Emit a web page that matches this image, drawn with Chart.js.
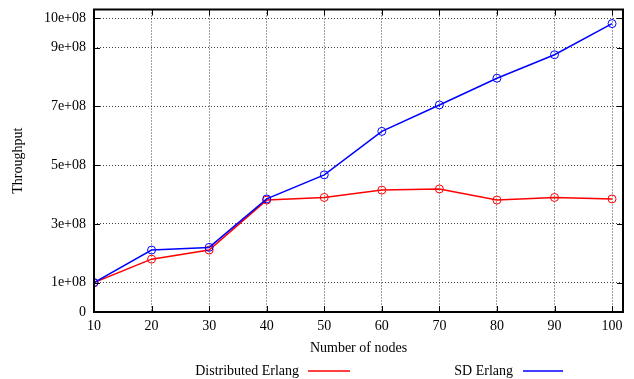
<!DOCTYPE html>
<html>
<head>
<meta charset="utf-8">
<script src="https://cdn.jsdelivr.net/npm/chart.js@4"></script>
<style>
  html, body { margin: 0; padding: 0; background: #fff; }
  #wrap { width: 634px; height: 379px; }
</style>
</head>
<body>
<div id="wrap"><canvas id="chart" width="634" height="379"></canvas></div>
<script>
  // valores
  const nodes = [10, 20, 30, 40, 50, 60, 70, 80, 90, 100];
  const distErlang = [1.0e8, 1.80e8, 2.11e8, 3.81e8, 3.90e8, 4.15e8, 4.19e8, 3.81e8, 3.90e8, 3.85e8];
  const sdErlang = [1.0e8, 2.11e8, 2.20e8, 3.85e8, 4.67e8, 6.15e8, 7.05e8, 7.96e8, 8.76e8, 9.82e8];
  const yTicks = [0, 1e8, 3e8, 5e8, 7e8, 9e8, 10e8];
  const xTicks = [10, 20, 30, 40, 50, 60, 70, 80, 90, 100];
  const seriesNames = ['Distributed Erlang', 'SD Erlang'];

  const serif = '"Liberation Serif", "DejaVu Serif", serif';
  const red = 'rgb(255,0,0)';
  const blue = 'rgb(0,0,255)';

  // moldura, marcas internas e legenda no estilo gnuplot
  const gnuplotFrame = {
    id: 'gnuplotFrame',
    afterDatasetsDraw(chart) {
      const {ctx, chartArea: a, scales} = chart;
      ctx.save();
      ctx.strokeStyle = '#000';
      ctx.lineWidth = 1;
      ctx.beginPath();
      xTicks.forEach(v => {
        const px = Math.round(scales.x.getPixelForValue(v)) + 0.5;
        ctx.moveTo(px, a.bottom); ctx.lineTo(px, a.bottom - 6);
        ctx.moveTo(px, a.top); ctx.lineTo(px, a.top + 6);
      });
      yTicks.forEach(v => {
        const py = Math.round(scales.y.getPixelForValue(v)) + 0.5;
        ctx.moveTo(a.left, py); ctx.lineTo(a.left + 6, py);
        ctx.moveTo(a.right, py); ctx.lineTo(a.right - 6, py);
      });
      ctx.stroke();
      ctx.lineWidth = 2;
      ctx.strokeRect(a.left, a.top, a.right - a.left, a.bottom - a.top);
      ctx.restore();
    },
    afterDraw(chart) {
      const {ctx} = chart;
      const y = 371;
      const entries = [
        {label: seriesNames[0], color: red, textEnd: 299, x0: 308, x1: 350},
        {label: seriesNames[1], color: blue, textEnd: 513, x0: 523, x1: 563}
      ];
      ctx.save();
      ctx.font = '14px ' + serif;
      ctx.textAlign = 'right';
      ctx.textBaseline = 'middle';
      entries.forEach(e => {
        ctx.fillStyle = '#000';
        ctx.fillText(e.label, e.textEnd, y);
        ctx.strokeStyle = e.color;
        ctx.lineWidth = 1.5;
        ctx.beginPath();
        ctx.moveTo(e.x0, y); ctx.lineTo(e.x1, y);
        ctx.stroke();
      });
      ctx.restore();
    }
  };

  const ctx = document.getElementById('chart').getContext('2d');
  new Chart(ctx, {
    type: 'line',
    data: {
      labels: nodes,
      datasets: [
        {
          label: seriesNames[0],
          data: nodes.map((n, i) => ({x: n, y: distErlang[i]})),
          borderColor: red,
          backgroundColor: 'rgba(0,0,0,0)',
          pointBorderColor: red,
          borderWidth: 1.5,
          pointRadius: 4,
          pointBorderWidth: 1,
          tension: 0,
          order: 1
        },
        {
          label: seriesNames[1],
          data: nodes.map((n, i) => ({x: n, y: sdErlang[i]})),
          borderColor: blue,
          backgroundColor: 'rgba(0,0,0,0)',
          pointBorderColor: blue,
          borderWidth: 1.5,
          pointRadius: 4,
          pointBorderWidth: 1,
          tension: 0,
          order: 0
        }
      ]
    },
    options: {
      responsive: false,
      animation: false,
      devicePixelRatio: 1,
      layout: { padding: { left: 0, right: 11, top: 9.5, bottom: 22 } },
      plugins: {
        legend: { display: false },
        tooltip: { enabled: false }
      },
      scales: {
        x: {
          type: 'linear',
          min: 10,
          max: 101.9,
          afterBuildTicks: s => { s.ticks = xTicks.map(v => ({value: v})); },
          afterFit: s => { s.height = 45; s.paddingLeft = 0; s.paddingRight = 0; },
          ticks: { color: '#000', font: { family: serif, size: 14 }, padding: 6, maxRotation: 0 },
          grid: { color: 'rgba(0,0,0,0.75)', lineWidth: 1, tickLength: 0 },
          border: { display: false, dash: [1, 2] },
          title: { display: true, text: 'Number of nodes', color: '#000', font: { family: serif, size: 14 }, padding: { top: 0, bottom: 0 } }
        },
        y: {
          min: 0,
          max: 10.3e8,
          afterBuildTicks: s => { s.ticks = yTicks.map(v => ({value: v})); },
          afterFit: s => { s.width = 94; s.paddingTop = 0; s.paddingBottom = 0; },
          ticks: {
            color: '#000',
            font: { family: serif, size: 14 },
            padding: 8,
            callback: v => v === 0 ? '0' : (v / 1e8) + 'e+08'
          },
          grid: { color: 'rgba(0,0,0,0.75)', lineWidth: 1, tickLength: 0 },
          border: { display: false, dash: [1, 2] },
          title: { display: true, text: 'Throughput', color: '#000', font: { family: serif, size: 14 }, padding: { top: 10, bottom: 0 } }
        }
      }
    },
    plugins: [gnuplotFrame]
  });
</script>
</body>
</html>
